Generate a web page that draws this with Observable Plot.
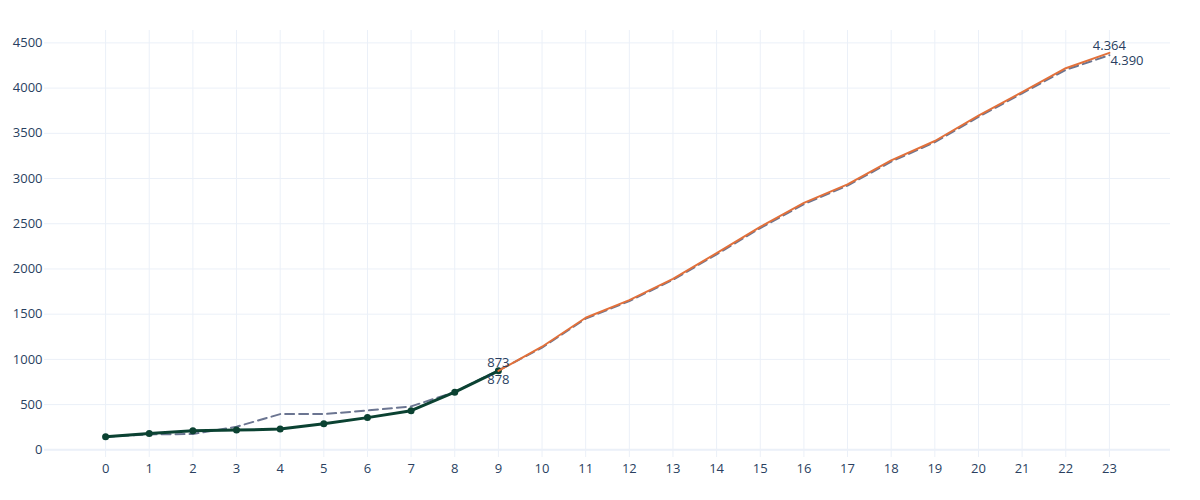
<!DOCTYPE html>
<html>
<head>
<meta charset="utf-8">
<script src="https://cdn.jsdelivr.net/npm/d3@7"></script>
<script src="https://cdn.jsdelivr.net/npm/@observablehq/plot@0.6"></script>
<style>
  body { margin: 0; background: #fff; }
</style>
</head>
<body>
<div id="chart"></div>
<script>
// actual values (green)
const actualDays = [0, 1, 2, 3, 4, 5, 6, 7, 8, 9];
const actual = [145, 181, 211, 218, 229, 289, 356, 433, 637, 873];

// forecast (orange)
const forecastDays = [9, 10, 11, 12, 13, 14, 15, 16, 17, 18, 19, 20, 21, 22, 23];
const forecast = [873, 1140, 1460, 1655, 1890, 2175, 2465, 2730, 2935, 3200, 3415, 3695, 3955, 4220, 4390];

// model (dashed)
const modelDays = [0, 1, 2, 3, 4, 5, 6, 7, 8, 9, 10, 11, 12, 13, 14, 15, 16, 17, 18, 19, 20, 21, 22, 23];
const model = [145, 170, 175, 255, 395, 395, 435, 480, 640, 878, 1130, 1450, 1645, 1880, 2162, 2452, 2717, 2922, 3187, 3402, 3682, 3942, 4202, 4364];

const xTicks = [0, 1, 2, 3, 4, 5, 6, 7, 8, 9, 10, 11, 12, 13, 14, 15, 16, 17, 18, 19, 20, 21, 22, 23];
const yTicks = [0, 500, 1000, 1500, 2000, 2500, 3000, 3500, 4000, 4500];

const actualData = actualDays.map((d, i) => ({day: d, value: actual[i]}));
const forecastData = forecastDays.map((d, i) => ({day: d, value: forecast[i]}));
const modelData = modelDays.map((d, i) => ({day: d, value: model[i]}));

const gridColor = "#EBF0F8";
const textColor = "#2a3f5f";

let chart = Plot.plot({
  width: 1200,
  height: 500,
  marginLeft: 44,
  marginRight: 30,
  marginTop: 30,
  marginBottom: 43,
  style: {fontFamily: "'Open Sans', sans-serif", fontSize: "13px", color: textColor, background: "#fff"},
  x: {domain: [-1.4, 24.4], ticks: xTicks, tickSize: 0, tickPadding: 6, label: null},
  y: {domain: [-85, 4637], ticks: yTicks, tickSize: 0, tickPadding: 2, tickFormat: d => String(d), label: null},
  marks: [
    Plot.gridX(xTicks, {stroke: gridColor, strokeOpacity: 1}),
    Plot.gridY(yTicks, {stroke: gridColor, strokeOpacity: 1, x1: -1.4, x2: 24.4}),
    Plot.ruleY([0], {stroke: gridColor, strokeWidth: 2}),
    Plot.line(modelData, {x: "day", y: "value", stroke: "#6b7591", strokeWidth: 2, strokeDasharray: "9,5"}),
    Plot.line(actualData, {x: "day", y: "value", stroke: "#0b4232", strokeWidth: 3}),
    Plot.dot(actualData, {x: "day", y: "value", fill: "#0b4232", r: 3.5}),
    Plot.line(forecastData, {x: "day", y: "value", stroke: "#e2703a", strokeWidth: 2}),
    // end labels
    Plot.text([{day: 9, value: 873, label: "873"}], {x: "day", y: "value", text: "label", lineAnchor: "bottom", dy: -4, fontSize: 13, fill: textColor}),
    Plot.text([{day: 9, value: 878, label: "878"}], {x: "day", y: "value", text: "label", lineAnchor: "top", dy: 4, fontSize: 13, fill: textColor}),
    Plot.text([{day: 23, value: 4390, label: "4.364"}], {x: "day", y: "value", text: "label", lineAnchor: "bottom", dy: -3, fontSize: 13, fill: textColor}),
    Plot.text([{day: 23, value: 4364, label: "4.390"}], {x: "day", y: "value", text: "label", lineAnchor: "top", textAnchor: "start", dx: 1, dy: 1, fontSize: 13, fill: textColor})
  ]
});

d3.select("#chart").append(() => chart);
</script>
</body>
</html>
